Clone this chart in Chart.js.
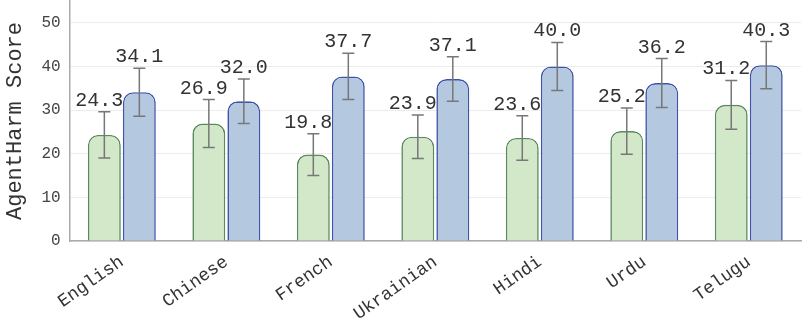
<!DOCTYPE html>
<html>
<head>
<meta charset="utf-8">
<script src="https://cdn.jsdelivr.net/npm/chart.js@4/dist/chart.umd.min.js"></script>
<style>
  html, body { margin: 0; padding: 0; background: #ffffff; }
  #wrap { width: 802px; height: 321px; position: relative; }
</style>
</head>
<body>
<div id="wrap"><canvas id="c"></canvas></div>
<script>
// Languages evaluated
const languages = ["English", "Chinese", "French", "Ukrainian", "Hindi", "Urdu", "Telugu"];

// Mean AgentHarm scores for the two conditions
const scoresA = [24.3, 26.9, 19.8, 23.9, 23.6, 25.2, 31.2];
const scoresB = [34.1, 32.0, 37.7, 37.1, 40.0, 36.2, 40.3];

// Error bar half-widths
const errA = [5.3, 5.5, 4.8, 5.0, 5.1, 5.3, 5.6];
const errB = [5.5, 5.1, 5.3, 5.1, 5.5, 5.6, 5.4];

// Y axis ticks
const yTicks = [0, 10, 20, 30, 40, 50];

const MONO = "'Liberation Mono', 'DejaVu Sans Mono', monospace";

// Draws error bars and value labels on top of each bar
const errorLabelPlugin = {
  id: 'errorLabels',
  afterDatasetsDraw(chart) {
    const ctx = chart.ctx;
    const yScale = chart.scales.y;
    const errs = [errA, errB];
    const labelShift = [-5, 0];
    chart.data.datasets.forEach((ds, di) => {
      const meta = chart.getDatasetMeta(di);
      meta.data.forEach((bar, i) => {
        const v = ds.data[i];
        const e = errs[di][i];
        const x = bar.x;
        const yTop = yScale.getPixelForValue(v + e);
        const yBot = yScale.getPixelForValue(v - e);
        ctx.save();
        ctx.strokeStyle = '#777777';
        ctx.lineWidth = 1.5;
        ctx.beginPath();
        ctx.moveTo(x, yTop); ctx.lineTo(x, yBot);
        ctx.moveTo(x - 6, yTop); ctx.lineTo(x + 6, yTop);
        ctx.moveTo(x - 6, yBot); ctx.lineTo(x + 6, yBot);
        ctx.stroke();
        ctx.fillStyle = '#333333';
        ctx.font = '20px ' + MONO;
        ctx.textAlign = 'center';
        ctx.textBaseline = 'alphabetic';
        ctx.fillText(v.toFixed(1), x + labelShift[di], yTop - 6);
        ctx.restore();
      });
    });
  }
};

new Chart(document.getElementById('c'), {
  type: 'bar',
  data: {
    labels: languages,
    datasets: [
      {
        data: scoresA,
        backgroundColor: '#d2e8c8',
        borderColor: '#5a8a5e',
        borderWidth: 1.6,
        borderRadius: { topLeft: 10, topRight: 10 },
        borderSkipped: 'bottom',
        categoryPercentage: 0.67,
        barPercentage: 0.94
      },
      {
        data: scoresB,
        backgroundColor: '#b4c8e0',
        borderColor: '#3f54a8',
        borderWidth: 1.6,
        borderRadius: { topLeft: 10, topRight: 10 },
        borderSkipped: 'bottom',
        categoryPercentage: 0.67,
        barPercentage: 0.94
      }
    ]
  },
  options: {
    responsive: true,
    maintainAspectRatio: false,
    animation: false,
    layout: { padding: { top: 1, right: 1, left: 2, bottom: 0 } },
    plugins: {
      legend: { display: false },
      tooltip: { enabled: false }
    },
    scales: {
      x: {
        afterFit(scale) {
          scale.height = 80;
        },
        grid: { display: true, color: 'transparent', drawTicks: false },
        border: { display: true, color: '#aaaaaa', width: 1.5 },
        ticks: {
          color: '#333333',
          font: { family: MONO, size: 18, lineHeight: 1.1 },
          minRotation: 35,
          maxRotation: 35,
          padding: 11
        }
      },
      y: {
        min: 0,
        max: 55,
        afterBuildTicks(scale) {
          scale.ticks = yTicks.map(v => ({ value: v }));
        },
        afterFit(scale) {
          scale.paddingTop = 0;
        },
        grid: { color: '#ececec', lineWidth: 1, drawTicks: false },
        border: { display: true, color: '#aaaaaa', width: 1.5 },
        ticks: {
          color: '#444444',
          font: { family: MONO, size: 16 },
          padding: 9
        },
        title: {
          display: true,
          text: 'AgentHarm Score',
          color: '#333333',
          font: { family: MONO, size: 22 },
          padding: { top: 0, bottom: 4 }
        }
      }
    }
  },
  plugins: [errorLabelPlugin]
});
</script>
</body>
</html>
